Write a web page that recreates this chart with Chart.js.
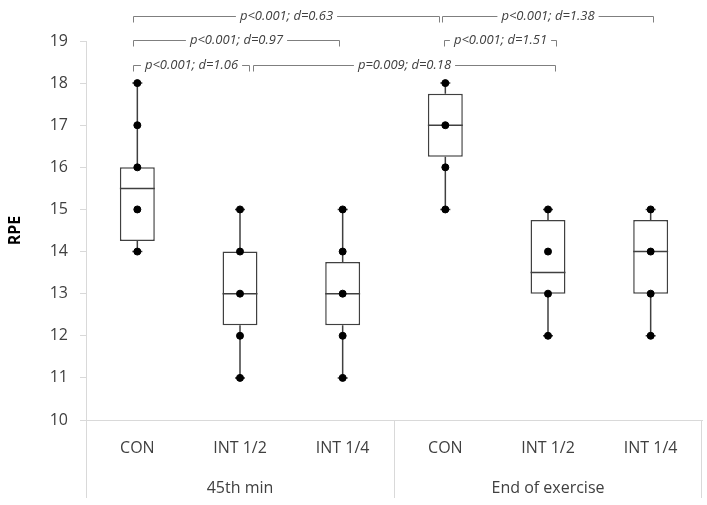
<!DOCTYPE html>
<html>
<head>
<meta charset="utf-8">
<script src="https://cdn.jsdelivr.net/npm/chart.js@4/dist/chart.umd.min.js"></script>
<style>
  html, body { margin: 0; padding: 0; background: #fff; }
  #wrap { width: 707px; height: 505px; }
</style>
</head>
<body>
<div id="wrap"><canvas id="rpe"></canvas></div>
<script>
// categories and groups
var categories = ['CON', 'INT 1/2', 'INT 1/4', 'CON', 'INT 1/2', 'INT 1/4'];
var groups = ['45th min', 'End of exercise'];
var groupSize = 3;

// box plot values (RPE)
var whiskerLow  = [14, 11, 11, 15, 12, 12];
var q1          = [14.25, 12.25, 12.25, 16.25, 13, 13];
var median      = [15.5, 13, 13, 17, 13.5, 14];
var q3          = [16, 14, 13.75, 17.75, 14.75, 14.75];
var whiskerHigh = [18, 15, 15, 18, 15, 15];

// individual points per category
var points = [
    [14, 15, 16, 17, 18],
    [11, 12, 13, 14, 15],
    [11, 12, 13, 14, 15],
    [15, 16, 17, 18],
    [12, 13, 14, 15],
    [12, 13, 14, 15]
];

// y axis ticks
var yMin = 10;
var yMax = 19;

// significance brackets
var bracketText = ['p<0.001; d=0.63', 'p<0.001; d=1.38', 'p<0.001; d=0.97', 'p<0.001; d=1.51', 'p<0.001; d=1.06', 'p=0.009; d=0.18'];
var bracketFrom = [0, 3, 0, 3, 0, 1];
var bracketTo   = [3, 5, 2, 4, 1, 4];
var bracketRow  = [0, 0, 1, 1, 2, 2];

// drawing style for brackets (pixel nudges at the ends, row heights)
var bracketStyle = {
    rowY: [16, 40, 65],
    nudgeFrom: [-4, -3, -4, -1, -4, 13],
    nudgeTo: [-6, 2, -4, 8, 9, 7],
    tick: 6
};

var boxData = categories.map(function (c, i) { return [q1[i], q3[i]]; });

// one point layer per rank, aligned with categories
var maxPoints = Math.max.apply(null, points.map(function (a) { return a.length; }));
var pointSets = [];
for (var k = 0; k < maxPoints; k++) {
    pointSets.push({
        type: 'line',
        label: 'point ' + (k + 1),
        data: points.map(function (arr) { return k < arr.length ? arr[k] : null; }),
        showLine: false,
        backgroundColor: '#000',
        borderColor: '#000',
        pointRadius: 3.5,
        pointHoverRadius: 3.5,
        order: 0
    });
}

var boxDataset = {
    label: 'Box',
    data: boxData,
    backgroundColor: '#fff',
    borderColor: '#404040',
    borderWidth: 1.5,
    borderSkipped: false,
    categoryPercentage: 1,
    barPercentage: 0.34,
    order: 1
};

var boxExtras = {
    id: 'boxExtras',
    afterDatasetDraw: function (chart, args) {
        if (chart.data.datasets[args.index] !== boxDataset) return;
        var ctx = chart.ctx;
        var x = chart.scales.x, y = chart.scales.y;
        var meta = args.meta;
        ctx.save();
        ctx.strokeStyle = '#404040';
        ctx.lineWidth = 1.5;
        categories.forEach(function (c, i) {
            var bar = meta.data[i];
            var cx = x.getPixelForValue(i);
            var half = bar.width / 2;
            // whiskers
            ctx.beginPath();
            ctx.moveTo(cx, y.getPixelForValue(whiskerLow[i]));
            ctx.lineTo(cx, y.getPixelForValue(q1[i]));
            ctx.moveTo(cx, y.getPixelForValue(q3[i]));
            ctx.lineTo(cx, y.getPixelForValue(whiskerHigh[i]));
            ctx.moveTo(cx - 5, y.getPixelForValue(whiskerLow[i]));
            ctx.lineTo(cx + 5, y.getPixelForValue(whiskerLow[i]));
            ctx.moveTo(cx - 5, y.getPixelForValue(whiskerHigh[i]));
            ctx.lineTo(cx + 5, y.getPixelForValue(whiskerHigh[i]));
            ctx.stroke();
            // median
            var my = y.getPixelForValue(median[i]);
            ctx.beginPath();
            ctx.moveTo(cx - half, my);
            ctx.lineTo(cx + half, my);
            ctx.stroke();
        });
        ctx.restore();
    },
    afterDraw: function (chart) {
        var ctx = chart.ctx;
        var x = chart.scales.x;
        var area = chart.chartArea;
        var bottom = 498;
        ctx.save();
        // category separators below the axis
        ctx.strokeStyle = '#d9d9d9';
        ctx.lineWidth = 1;
        ctx.beginPath();
        ctx.moveTo(area.left + 0.5, area.bottom);
        ctx.lineTo(area.left + 0.5, bottom);
        for (var g = 1; g <= groups.length; g++) {
            var sx;
            if (g === groups.length) {
                sx = Math.round(area.right) - 0.5;
            } else {
                sx = Math.round((x.getPixelForValue(g * groupSize - 1) + x.getPixelForValue(g * groupSize)) / 2) + 0.5;
            }
            ctx.moveTo(sx, area.bottom);
            ctx.lineTo(sx, bottom);
        }
        ctx.stroke();
        // group labels
        ctx.fillStyle = '#404040';
        ctx.font = '16px "Open Sans"';
        ctx.textAlign = 'center';
        ctx.textBaseline = 'middle';
        groups.forEach(function (name, g) {
            var a = x.getPixelForValue(g * groupSize);
            var b = x.getPixelForValue(g * groupSize + groupSize - 1);
            ctx.fillText(name, (a + b) / 2, 488);
        });
        // brackets
        ctx.font = 'italic 13px "Open Sans"';
        ctx.strokeStyle = '#7f7f7f';
        ctx.lineWidth = 1;
        bracketText.forEach(function (t, i) {
            var x1 = Math.round(x.getPixelForValue(bracketFrom[i]) + bracketStyle.nudgeFrom[i]) + 0.5;
            var x2 = Math.round(x.getPixelForValue(bracketTo[i]) + bracketStyle.nudgeTo[i]) + 0.5;
            var by = bracketStyle.rowY[bracketRow[i]] + 0.5;
            var mid = (x1 + x2) / 2;
            var gap = ctx.measureText(t).width / 2 + 4;
            ctx.beginPath();
            ctx.moveTo(x1, by + bracketStyle.tick);
            ctx.lineTo(x1, by);
            ctx.lineTo(mid - gap, by);
            ctx.moveTo(mid + gap, by);
            ctx.lineTo(x2, by);
            ctx.lineTo(x2, by + bracketStyle.tick);
            ctx.stroke();
            ctx.fillText(t, mid, by);
        });
        ctx.restore();
    }
};

new Chart(document.getElementById('rpe'), {
    type: 'bar',
    data: {
        labels: categories,
        datasets: pointSets.concat([boxDataset])
    },
    options: {
        responsive: true,
        maintainAspectRatio: false,
        animation: false,
        layout: { padding: { top: 41, right: 5, left: 0, bottom: 0 } },
        plugins: {
            legend: { display: false },
            tooltip: { enabled: false }
        },
        scales: {
            x: {
                type: 'category',
                offset: true,
                grid: { display: false },
                border: { display: true, color: '#d9d9d9' },
                ticks: {
                    color: '#404040',
                    font: { family: 'Open Sans', size: 16 },
                    padding: 11,
                    maxRotation: 0,
                    autoSkip: false
                },
                afterFit: function (scale) { scale.height = 85; }
            },
            y: {
                min: yMin,
                max: yMax,
                grid: { drawOnChartArea: false, color: '#d9d9d9', tickLength: 6 },
                border: { display: true, color: '#d9d9d9' },
                ticks: {
                    stepSize: 1,
                    color: '#404040',
                    font: { family: 'Open Sans', size: 16 },
                    padding: 12
                },
                title: {
                    display: true,
                    text: 'RPE',
                    color: '#000',
                    font: { family: 'Open Sans', size: 16, weight: 'bold' },
                    padding: { top: 6, bottom: 0 }
                },
                afterFit: function (scale) { scale.width = 86; }
            }
        }
    },
    plugins: [boxExtras]
});
</script>
</body>
</html>
